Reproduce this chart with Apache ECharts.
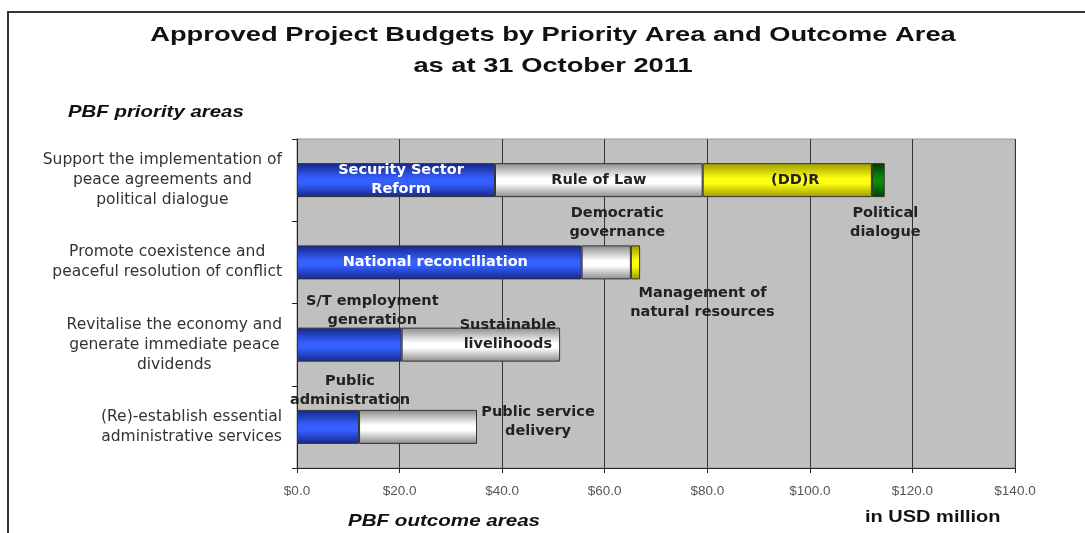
<!DOCTYPE html>
<html>
<head>
<meta charset="utf-8">
<script src="https://cdn.jsdelivr.net/npm/echarts@6/dist/echarts.min.js"></script>
<style>
html,body{margin:0;padding:0;background:#fff;}
#chart{width:1085px;height:533px;}
</style>
</head>
<body>
<div id="chart"></div>
<script>
// ---- data ----
var categories = [
  'Support the implementation of\npeace agreements and\npolitical dialogue',
  'Promote coexistence and\npeaceful resolution of conflict',
  'Revitalise the economy and\ngenerate immediate peace\ndividends',
  '(Re)-establish essential\nadministrative services'
];
var layer1Values = [38.6, 55.5, 20.4, 12.1];
var layer1Names = ['Security Sector\nReform', 'National reconciliation', 'S/T employment\ngeneration', 'Public\nadministration'];
var layer2Values = [40.5, 9.6, 30.9, 23.0];
var layer2Names = ['Rule of Law', 'Democratic\ngovernance', 'Sustainable\nlivelihoods', 'Public service\ndelivery'];
var layer3Values = [33.0, 1.8, null, null];
var layer3Names = ['(DD)R', 'Management of\nnatural resources', '', ''];
var layer4Values = [2.5, null, null, null];
var layer4Names = ['Political\ndialogue', '', '', ''];
var xTicks = [0, 20, 40, 60, 80, 100, 120, 140];

// ---- styles ----
var SANS = 'DejaVu Sans, Liberation Sans, sans-serif';
function grad(edge, mid) {
  return new echarts.graphic.LinearGradient(0, 0, 0, 1, [
    {offset: 0, color: edge}, {offset: 0.45, color: mid}, {offset: 0.6, color: mid}, {offset: 1, color: edge}
  ]);
}
var fills = [grad('#14268a', '#3560ff'), grad('#8a8a8a', '#ffffff'), grad('#9a9a00', '#ffff10'), grad('#003c00', '#0a8a0a')];
var labelOffsets = [
  [[5, 0], [-4, 0], [23, -34], [22, -36]],
  [[0, 0], [11, -40], [27, -10], [120, -5]],
  [[8, 0], [67, 40], [0, 0], [0, 0]],
  [[7, 43], [0, 0], [0, 0], [0, 0]]
];
var labelColors = [
  ['#ffffff', '#ffffff', '#222', '#222'],
  ['#222', '#222', '#222', '#222'],
  ['#222', '#222', '#222', '#222'],
  ['#222', '#222', '#222', '#222']
];

function makeSeries(idx, values, names) {
  return {
    type: 'bar',
    stack: 'total',
    barWidth: 34,
    itemStyle: {color: fills[idx], borderColor: '#333', borderWidth: 1},
    data: values.map(function (v, i) {
      return {
        value: v,
        label: {
          show: v != null,
          position: 'inside',
          offset: labelOffsets[idx][i],
          color: labelColors[idx][i],
          fontFamily: SANS,
          fontWeight: 'bold',
          fontSize: 14.5,
          lineHeight: 19,
          align: 'center',
          formatter: function () { return names[i]; }
        }
      };
    })
  };
}

function stretchedText(x, y, text, font, sx, align) {
  return {type: 'text', x: x, y: y, scaleX: sx, z: 10,
    style: {text: text, font: font, fill: '#111', textAlign: align, textVerticalAlign: 'middle'}};
}

var chart = echarts.init(document.getElementById('chart'));
chart.setOption({
  animation: false,
  backgroundColor: '#ffffff',
  textStyle: {fontFamily: SANS},
  graphic: [
    {type: 'rect', shape: {x: 8, y: 12, width: 1100, height: 560}, style: {fill: 'none', stroke: '#333', lineWidth: 2}, z: -1},
    stretchedText(553, 35, 'Approved Project Budgets by Priority Area and Outcome Area', 'bold 21px Liberation Sans, Arial, sans-serif', 1.3, 'center'),
    stretchedText(553, 66, 'as at 31 October 2011', 'bold 21px Liberation Sans, Arial, sans-serif', 1.3, 'center'),
    stretchedText(68, 112, 'PBF priority areas', 'italic bold 17px Liberation Sans, Arial, sans-serif', 1.2, 'left'),
    stretchedText(348, 521, 'PBF outcome areas', 'italic bold 17px Liberation Sans, Arial, sans-serif', 1.21, 'left'),
    stretchedText(865, 518, 'in USD million', 'bold 16px Liberation Sans, Arial, sans-serif', 1.25, 'left')
  ],
  grid: {left: 297, right: 70, top: 139, bottom: 65, show: true, backgroundColor: '#c0c0c0', borderColor: '#999', borderWidth: 1},
  xAxis: {
    type: 'value', min: 0, max: 140, interval: 20,
    axisLine: {show: true, lineStyle: {color: '#222'}},
    axisTick: {show: true, length: 5, lineStyle: {color: '#222'}},
    splitLine: {show: true, lineStyle: {color: '#333', width: 1}},
    axisLabel: {margin: 16, color: '#555', fontSize: 13.5, fontFamily: 'Liberation Sans, Arial, sans-serif',
      formatter: function (v) { return xTicks.indexOf(v) >= 0 ? '$' + v.toFixed(1) : ''; }}
  },
  yAxis: {
    type: 'category', inverse: true, data: categories,
    axisLine: {show: true, lineStyle: {color: '#222'}},
    axisTick: {show: true, length: 5, lineStyle: {color: '#222'}},
    axisLabel: {margin: 15, align: 'right', color: '#333',
      formatter: function (v) { return v.split('\n').map(function (s) { return '{c|' + s + '}'; }).join('\n'); },
      rich: {c: {align: 'center', fontSize: 15.5, lineHeight: 20, color: '#333', fontFamily: SANS}}
    }
  },
  series: [
    makeSeries(0, layer1Values, layer1Names),
    makeSeries(1, layer2Values, layer2Names),
    makeSeries(2, layer3Values, layer3Names),
    makeSeries(3, layer4Values, layer4Names)
  ]
});
</script>
</body>
</html>
